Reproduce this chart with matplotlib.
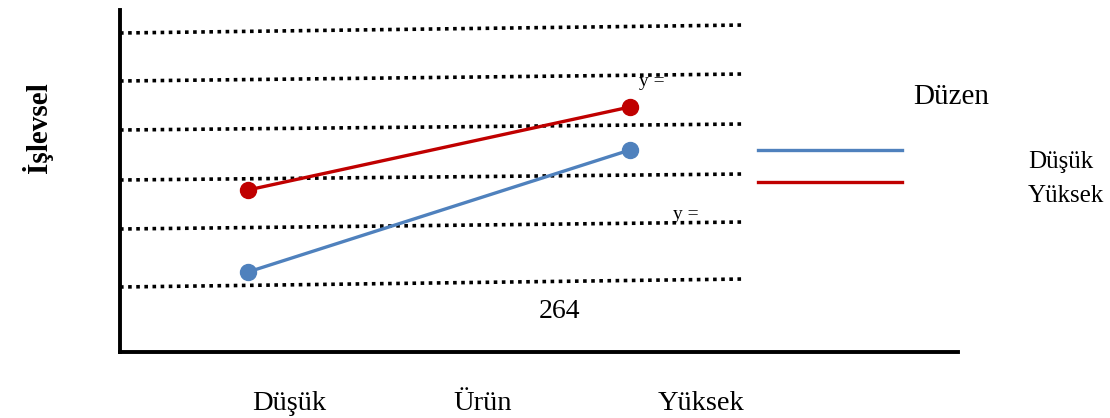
import matplotlib
matplotlib.use('Agg')
import matplotlib.pyplot as plt
from matplotlib.lines import Line2D


W, H = 1110, 418
BLUE = '#4f81bd'
RED = '#c00000'

# x positions: 0 = Düşük, 1 = Yüksek
levels      = [0, 1]
dusuk_vals  = [80, 202]
yuksek_vals = [162, 245]

# slanted dotted reference lines (left end, right end)
grid_x     = [-0.335, 1.30]
grid_left  = [65, 123, 172, 222, 271, 319]
grid_right = [73, 130, 178, 228, 278, 327]

x_labels   = ['Düşük', 'Ürün', 'Yüksek']
legend_labels = ['Düşük', 'Yüksek']


def fx(px):
    return px / W


def fy(py):
    return 1 - py / H


plt.rcParams['font.family'] = ['Liberation Serif', 'DejaVu Serif']

fig = plt.figure(figsize=(W / 100, H / 100), dpi=100)
ax = fig.add_axes([fx(120), fy(352), fx(958) - fx(120), fy(10) - fy(352)])
ax.set_xlim(-0.335, 1.859)
ax.set_ylim(0, 342)

for yl, yr in zip(grid_left, grid_right):
    ax.plot(grid_x, [yl, yr], color='black', lw=2.6, linestyle=(0, (1, 1.25)),
            dash_capstyle='butt', zorder=1)

ax.plot(levels, dusuk_vals, color=BLUE, lw=2.4, marker='o', markersize=11.5, zorder=3)
ax.plot(levels, yuksek_vals, color=RED, lw=2.4, marker='o', markersize=11.5, zorder=3)

for side in ['top', 'right']:
    ax.spines[side].set_visible(False)
for side in ['left', 'bottom']:
    ax.spines[side].set_linewidth(2.8)
ax.set_xticks([])
ax.set_yticks([])

# annotations inside the plot
fig.text(fx(652), fy(82), 'y =', fontsize=14, ha='center', va='center')
fig.text(fx(686), fy(215), 'y =', fontsize=14, ha='center', va='center')
fig.text(fx(559), fy(312), '264', fontsize=20, ha='center', va='center')

# axis texts
fig.text(fx(37), fy(128), 'İşlevsel', fontsize=21, fontweight='bold',
         rotation=90, ha='center', va='center')
for lab, px in zip(x_labels, [289, 483, 701]):
    fig.text(fx(px), fy(403), lab, fontsize=20.5, ha='center', va='center')

# legend drawn by hand
fig.text(fx(951), fy(97), 'Düzen', fontsize=21, ha='center', va='center')
for col, py in zip([BLUE, RED], [150, 182]):
    fig.add_artist(Line2D([fx(758), fx(902)], [fy(py), fy(py)], color=col, lw=2.4,
                          transform=fig.transFigure))
for lab, py in zip(legend_labels, [162, 196]):
    fig.text(fx(1028), fy(py), lab, fontsize=18, ha='left', va='center')

fig.savefig('out.png', dpi=100)
